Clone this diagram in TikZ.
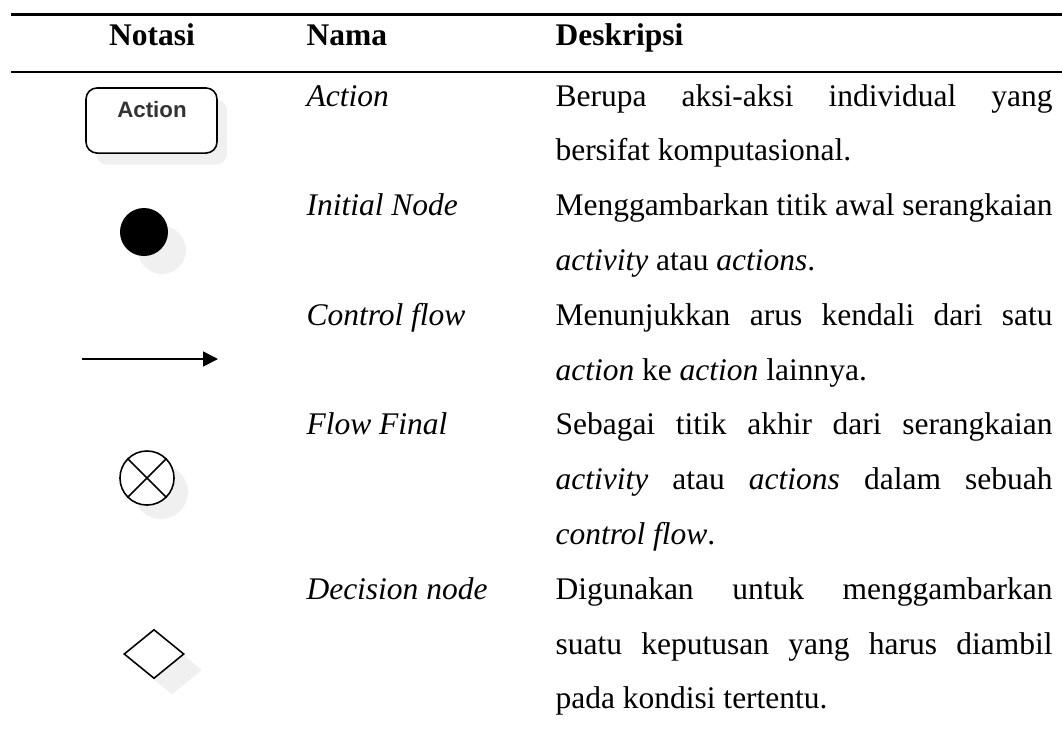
\documentclass[tikz,border=0pt]{standalone}
\usepackage{fontspec}
\setmainfont{Liberation Serif}
\newfontfamily\iconfont{Liberation Sans}
\usetikzlibrary{shapes.geometric,arrows.meta}
\definecolor{shadowgray}{rgb}{0.94,0.94,0.94}
\definecolor{icontext}{rgb}{0.2,0.2,0.2}
\newlength{\desc}
\setlength{\desc}{189.4pt}
\newcommand{\jline}[1]{\makebox[\desc][s]{#1}}
\newcommand{\bodysize}{\fontsize{12pt}{14pt}\selectfont}
\tikzstyle{head}=[anchor=base west,inner sep=0pt,font=\bodysize\bfseries]
\tikzstyle{namecol}=[anchor=base west,inner sep=0pt,font=\bodysize\itshape]
\tikzstyle{desccol}=[anchor=base west,inner sep=0pt,font=\bodysize]
\tikzstyle{icon}=[draw=black,line width=0.6pt,inner sep=0pt,fill=white]
\tikzstyle{shadowfill}=[fill=shadowgray,draw=none,inner sep=0pt]

\begin{document}
\begin{tikzpicture}[x=0.381pt,y=-0.381pt]
\useasboundingbox (0,0) rectangle (1062,738);

% rules
\draw[line width=0.9pt] (11,14.5) -- (1062,14.5);
\draw[line width=0.9pt] (11,72) -- (1062,72);
\fill[white] (72,70.2) rectangle (233,71.1);

% header
\node[head,anchor=base] (hnotasi) at (152,45) {Notasi};
\node[head] (hnama) at (306,45) {Nama};
\node[head] (hdesk) at (555,45) {Deskripsi};

% nama
\node[namecol] (nact) at (306,106) {Action};
\node[namecol] (ninit) at (306,215.6) {Initial Node};
\node[namecol] (nflow) at (306,325.2) {Control flow};
\node[namecol] (nfinal) at (306,434.8) {Flow Final};
\node[namecol] (ndec) at (306,599.2) {Decision node};

% deskripsi
\node[desccol] (d1) at (555,106) {\jline{Berupa aksi-aksi individual yang}};
\node[desccol] (d2) at (555,160.8) {bersifat komputasional.};
\node[desccol] (d3) at (555,215.6) {\jline{Menggambarkan titik awal serangkaian}};
\node[desccol] (d4) at (555,270.4) {\textit{activity} atau \textit{actions}.};
\node[desccol] (d5) at (555,325.2) {\jline{Menunjukkan arus kendali dari satu}};
\node[desccol] (d6) at (555,380) {\textit{action} ke \textit{action} lainnya.};
\node[desccol] (d7) at (555,434.8) {\jline{Sebagai titik akhir dari serangkaian}};
\node[desccol] (d8) at (555,489.6) {\jline{\textit{activity} atau \textit{actions} dalam sebuah}};
\node[desccol] (d9) at (555,544.4) {\textit{control flow}.};
\node[desccol] (d10) at (555,599.2) {\jline{Digunakan untuk menggambarkan}};
\node[desccol] (d11) at (555,654) {\jline{suatu keputusan yang harus diambil}};
\node[desccol] (d12) at (555,708.8) {pada kondisi tertentu.};

% notasi: action
\node[shadowfill,rounded corners=4.2pt,minimum width=49.9pt,minimum height=24.8pt] (actshadow) at (161.5,132) {};
\node[icon,rounded corners=4.2pt,minimum width=49.9pt,minimum height=24.8pt] (action) at (151.5,120.5) {};
\node[inner sep=0pt,anchor=base,text=icontext,font={\iconfont\bfseries\fontsize{8.5pt}{10pt}\selectfont}] (actlabel) at (152,117) {Action};

% notasi: initial node
\node[shadowfill,circle,minimum size=18.3pt] (initshadow) at (162,250) {};
\node[circle,fill=black,inner sep=0pt,minimum size=18.3pt] (initial) at (144,232) {};

% notasi: control flow
\coordinate (cfstart) at (82,359);
\coordinate (cfend) at (218,359);
\draw[line width=0.6pt,-{Triangle[length=5.7pt,width=5.7pt]}] (cfstart) -- (cfend);

% notasi: flow final
\node[shadowfill,circle,minimum size=20.6pt] (finalshadow) at (161,492) {};
\node[icon,circle,minimum size=20.6pt] (final) at (147,478) {};
\draw[line width=0.6pt] (final.45) -- (final.225);
\draw[line width=0.6pt] (final.135) -- (final.315);

% notasi: decision node
\node[shadowfill,diamond,minimum width=22.9pt,minimum height=18.7pt] (decshadow) at (172,670) {};
\node[icon,diamond,minimum width=22.9pt,minimum height=18.7pt] (decision) at (154,654) {};

\end{tikzpicture}
\end{document}
